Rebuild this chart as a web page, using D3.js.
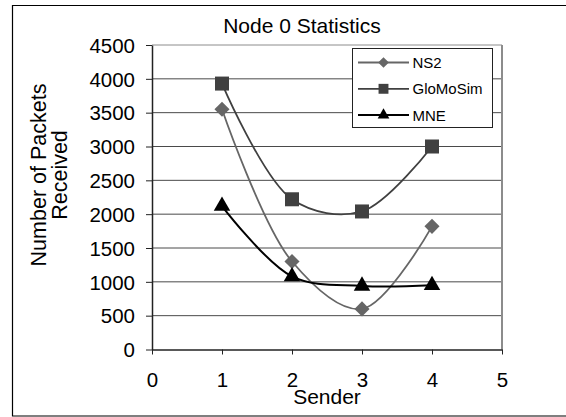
<!DOCTYPE html>
<html lang="en">
<head>
<meta charset="UTF-8">
<title>Node 0 Statistics</title>
<script src="https://d3js.org/d3.v7.min.js"></script>
<style>
  body { margin: 0; background: #fff; }
  text { font-family: "Liberation Sans", Arial, sans-serif; fill: #000; }
</style>
</head>
<body>
<script>
    // data
    const senders = [1, 2, 3, 4]
    const ns2 = [3550, 1300, 600, 1820]
    const gloMoSim = [3930, 2220, 2040, 3000]
    const mne = [2120, 1080, 940, 950]
    const seriesNames = ["NS2", "GloMoSim", "MNE"]
    const yTicks = [0, 500, 1000, 1500, 2000, 2500, 3000, 3500, 4000, 4500]
    const xTicks = [0, 1, 2, 3, 4, 5]

    const W = 566, H = 417
    const plotLeft = 152, plotRight = 502, plotTop = 45, plotBottom = 349.5

    const svg = d3.select("body").append("svg")
        .attr("width", W)
        .attr("height", H)

    // outer frame (right side runs off the picture)
    svg.append("path")
        .attr("d", `M${W + 2},5.5 H12.5 V416 H${W + 2}`)
        .attr("fill", "none")
        .attr("stroke", "#000")
        .attr("stroke-width", 1.2)

    const x = d3.scaleLinear().domain([0, 5]).range([plotLeft, plotRight])
    const y = d3.scaleLinear().domain([0, 4500]).range([plotBottom, plotTop])

    // gridlines
    svg.append("g")
        .selectAll("line")
        .data(yTicks.slice(1))
        .join("line")
        .attr("x1", plotLeft).attr("x2", plotRight)
        .attr("y1", d => y(d)).attr("y2", d => y(d))
        .attr("stroke", d => d === 4500 ? "#8c8c8c" : "#4a4a4a")
        .attr("stroke-width", 1)

    // plot area right edge
    svg.append("line")
        .attr("x1", plotRight).attr("x2", plotRight)
        .attr("y1", plotTop).attr("y2", plotBottom)
        .attr("stroke", "#8c8c8c")
        .attr("stroke-width", 2)

    // axes
    const fmt = d3.format("d")
    const yAxis = svg.append("g")
        .attr("transform", `translate(${plotLeft},0)`)
        .call(d3.axisLeft(y).tickValues(yTicks).tickFormat(fmt).tickSize(6).tickSizeOuter(0))
    const xAxis = svg.append("g")
        .attr("transform", `translate(0,${plotBottom})`)
        .call(d3.axisBottom(x).tickValues(xTicks).tickFormat(fmt).tickSize(5).tickSizeOuter(0))

    for (const ax of [yAxis, xAxis]) {
        ax.select(".domain").attr("stroke", "#222").attr("stroke-width", 1.5)
        ax.selectAll(".tick line").attr("stroke", "#222")
        ax.selectAll("text")
            .attr("font-family", "\"Liberation Sans\", Arial, sans-serif")
            .attr("font-size", 20.5)
            .attr("fill", "#000")
    }
    yAxis.selectAll("text").attr("x", -17).attr("dy", "0.35em")
    xAxis.selectAll("text").attr("y", 37.5).attr("dy", 0)

    // titles
    svg.append("text")
        .attr("x", 302)
        .attr("y", 33)
        .attr("text-anchor", "middle")
        .attr("font-size", 21)
        .text("Node 0 Statistics")

    svg.append("text")
        .attr("x", 327)
        .attr("y", 404)
        .attr("text-anchor", "middle")
        .attr("font-size", 21)
        .text("Sender")

    const yLabel = svg.append("text")
        .attr("transform", "translate(46,175) rotate(-90)")
        .attr("text-anchor", "middle")
        .attr("font-size", 21.5)
    yLabel.append("tspan").attr("x", 0).attr("y", 0).text("Number of Packets")
    yLabel.append("tspan").attr("x", 0).attr("y", 21).text("Received")

    // series
    const series = [
        { name: seriesNames[0], values: ns2, color: "#666666", marker: d3.symbolDiamond2, size: 145, width: 1.8 },
        { name: seriesNames[1], values: gloMoSim, color: "#404040", marker: d3.symbolSquare2, size: 250, width: 1.8 },
        { name: seriesNames[2], values: mne, color: "#000000", marker: d3.symbolTriangle2, size: 195, width: 2 }
    ]

    const line = d3.line()
        .x(d => x(d[0]))
        .y(d => y(d[1]))
        .curve(d3.curveCatmullRom.alpha(0.5))

    series.forEach(s => {
        const pts = senders.map((k, i) => [k, s.values[i]])
        svg.append("path")
            .datum(pts)
            .attr("d", line)
            .attr("fill", "none")
            .attr("stroke", s.color)
            .attr("stroke-width", s.width)
    })

    series.forEach(s => {
        svg.append("g")
            .selectAll("path")
            .data(senders.map((k, i) => [k, s.values[i]]))
            .join("path")
            .attr("transform", d => `translate(${x(d[0])},${y(d[1])})`)
            .attr("d", d3.symbol().type(s.marker).size(s.size))
            .attr("fill", s.color)
    })

    // legend
    const lg = svg.append("g").attr("transform", "translate(352.5,48.5)")
    lg.append("rect")
        .attr("width", 140)
        .attr("height", 79)
        .attr("fill", "#fff")
        .attr("stroke", "#222")
        .attr("stroke-width", 1)

    series.forEach((s, i) => {
        const yy = 14 + i * 26.3
        lg.append("line")
            .attr("x1", 5.5).attr("x2", 56.5)
            .attr("y1", yy).attr("y2", yy)
            .attr("stroke", s.color)
            .attr("stroke-width", s.width)
        lg.append("path")
            .attr("transform", `translate(31,${yy})`)
            .attr("d", d3.symbol().type(s.marker).size(s.size * 0.5))
            .attr("fill", s.color)
        lg.append("text")
            .attr("x", 60)
            .attr("y", yy)
            .attr("dy", "0.36em")
            .attr("font-size", 15)
            .text(s.name)
    })
</script>
</body>
</html>
